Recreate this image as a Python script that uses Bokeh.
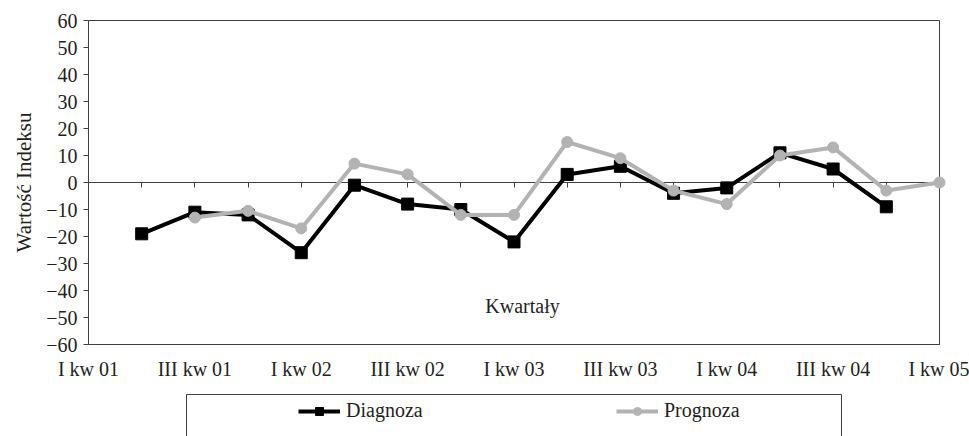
from bokeh.plotting import figure
from bokeh.models import (ColumnDataSource, FixedTicker, LinearAxis, Range1d,
                          Legend, LegendItem, Label, BoxAnnotation)
from bokeh.embed import file_html
from bokeh.resources import INLINE

quarters = ["I kw 01", "II kw 01", "III kw 01", "IV kw 01",
            "I kw 02", "II kw 02", "III kw 02", "IV kw 02",
            "I kw 03", "II kw 03", "III kw 03", "IV kw 03",
            "I kw 04", "II kw 04", "III kw 04", "IV kw 04",
            "I kw 05"]
diagnoza = [None, -19, -11, -12, -26, -1, -8, -10, -22, 3, 6, -4, -2, 11, 5, -9, None]
prognoza = [None, None, -13, -10.5, -17, 7, 3, -12, -12, 15, 9, -3, -8, 10, 13, -3, 0]
y_ticks = list(range(-60, 61, 10))

FONT = "Liberation Serif"
TXT = "#231f20"
AX = "#404040"
FS = "20px"

W, H = 969, 436
N = len(quarters) - 1
# plot box in pixels: left 88, right 939, top 20, bottom 344
BOX_L, BOX_R, BOX_T, BOX_B = 88, 939, 20, 344
PPX = (BOX_R - BOX_L) / N
PPY = (BOX_B - BOX_T) / 120
X0 = -BOX_L / PPX
X1 = N + (W - BOX_R) / PPX
Y1 = 60 + BOX_T / PPY
Y0 = -60 - (H - BOX_B) / PPY

# the frame covers the whole canvas; axes are pinned at fixed locations
p = figure(width=W, height=H, output_backend="svg", toolbar_location=None,
           x_range=Range1d(X0, X1), y_range=Range1d(Y0, Y1),
           x_axis_location=None, y_axis_location=None,
           min_border_left=0, min_border_right=0, min_border_top=0,
           min_border_bottom=0)
p.grid.visible = False
p.outline_line_color = None

# plot box (top and right sides)
p.add_layout(BoxAnnotation(left=0, right=N, bottom=-60, top=60, fill_alpha=0,
                           line_color=AX, line_alpha=1, line_width=1,
                           level="underlay"))

# y axis at x = 0
ya = LinearAxis(fixed_location=0, bounds=(-60, 60), ticker=FixedTicker(ticks=y_ticks),
                major_tick_in=0, major_tick_out=5, minor_tick_line_color=None,
                axis_line_color=AX, major_tick_line_color=AX,
                major_label_standoff=6, major_label_text_font=FONT,
                major_label_text_font_size=FS, major_label_text_color=TXT,
                axis_label="Wartość Indeksu", axis_label_text_font=FONT,
                axis_label_text_font_size="21px", axis_label_text_font_style="normal",
                axis_label_text_color=TXT, axis_label_standoff=7)
p.add_layout(ya, "left")

# category labels at y = -60
xa = LinearAxis(fixed_location=-60, bounds=(0, N),
                ticker=FixedTicker(ticks=list(range(0, N + 1, 2))),
                major_label_overrides={i: quarters[i] for i in range(0, N + 1, 2)},
                major_tick_line_color=None, minor_tick_line_color=None,
                axis_line_color=AX, major_label_standoff=7,
                major_label_text_font=FONT, major_label_text_font_size=FS,
                major_label_text_color=TXT)
p.add_layout(xa, "below")

# zero axis with downward ticks
zero_axis = LinearAxis(fixed_location=0, bounds=(0, N),
                       ticker=FixedTicker(ticks=list(range(1, N))),
                       major_tick_in=0, major_tick_out=5,
                       minor_tick_line_color=None,
                       axis_line_color=AX, major_tick_line_color=AX,
                       major_label_text_color=None, level="underlay")
p.add_layout(zero_axis, "below")

d_src = ColumnDataSource(dict(
    x=[i for i, v in enumerate(diagnoza) if v is not None],
    y=[v for v in diagnoza if v is not None]))
p_src = ColumnDataSource(dict(
    x=[i for i, v in enumerate(prognoza) if v is not None],
    y=[v for v in prognoza if v is not None]))

r_dl = p.line("x", "y", source=d_src, line_color="black", line_width=4)
r_ds = p.scatter("x", "y", source=d_src, marker="square", size=12,
                 fill_color="black", line_color="black")
r_pl = p.line("x", "y", source=p_src, line_color="#b3b3b3", line_width=4)
r_ps = p.scatter("x", "y", source=p_src, marker="circle", size=11,
                 fill_color="#b3b3b3", line_color="#b3b3b3")

p.add_layout(Label(x=8.16, y=-45.6, text="Kwartały", text_align="center",
                   text_baseline="middle", text_font=FONT, text_font_size=FS,
                   text_color=TXT))

# legend box (pixel layout converted to data units), open at the bottom edge
p.add_layout(BoxAnnotation(left=(186 - BOX_L) / PPX, right=(841 - BOX_L) / PPX,
                           top=60 - (394 - BOX_T) / PPY, bottom=Y0 - 20,
                           fill_alpha=0, line_color=AX, line_alpha=1,
                           line_width=1))

legend = Legend(items=[LegendItem(label="Diagnoza", renderers=[r_dl, r_ds]),
                       LegendItem(label="Prognoza", renderers=[r_pl, r_ps])],
                orientation="horizontal", location=(298, H - 422),
                border_line_color=None, background_fill_alpha=0,
                padding=0, margin=0, spacing=192, glyph_width=42,
                glyph_height=20, label_standoff=6, label_width=78,
                label_height=20, label_text_font=FONT,
                label_text_font_size=FS, label_text_color=TXT)
p.add_layout(legend)

open("out.html", "w").write(file_html(p, INLINE))
